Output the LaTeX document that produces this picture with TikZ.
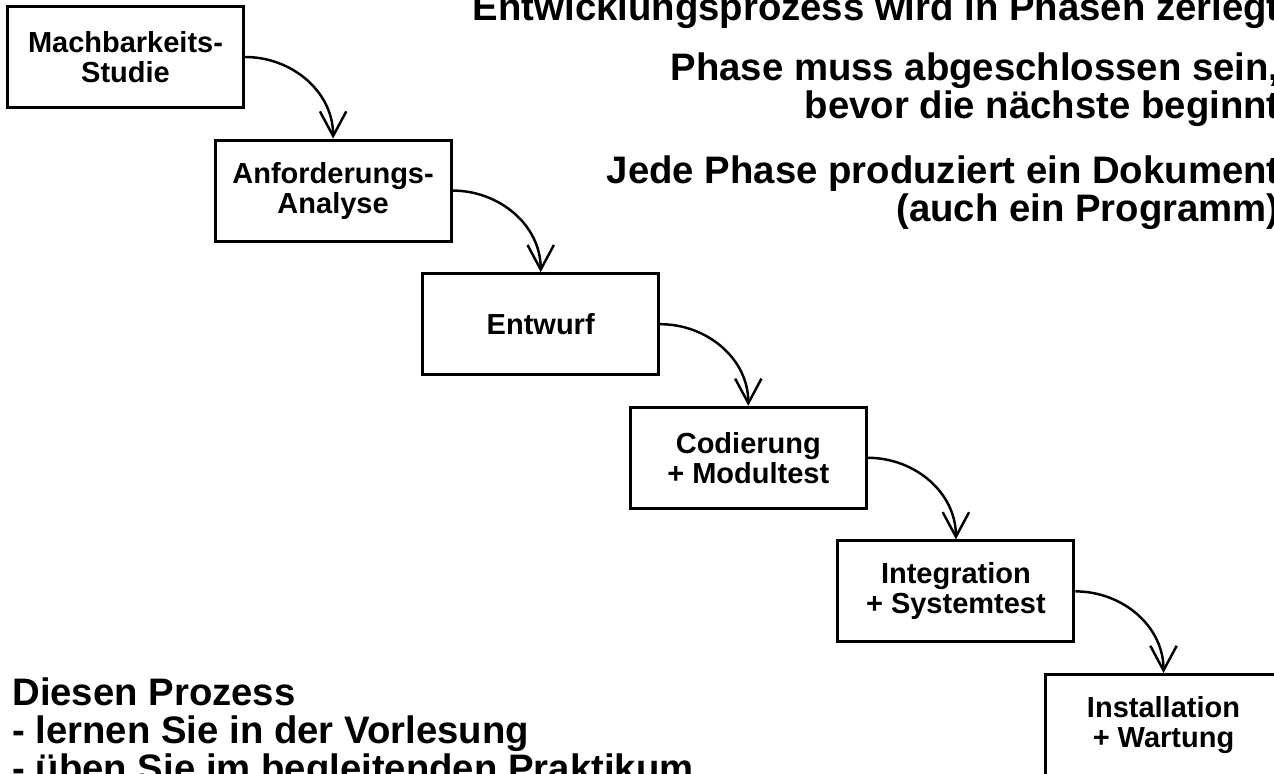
\documentclass[tikz,border=0pt]{standalone}
\usepackage{fontspec}
\setmainfont{Liberation Sans}
\usetikzlibrary{arrows.meta}

\tikzset{
  phase/.style={draw, line width=1.7pt, minimum width=4.72cm, minimum height=2.02cm,
    inner sep=0pt, align=center, font=\fontsize{16.5}{17}\selectfont\bfseries},
  note/.style={inner sep=0pt, font=\fontsize{21.8}{21.8}\selectfont\bfseries},
  flow/.style={->, line width=1.4pt}
}

\begin{document}
\begin{tikzpicture}[>={Straight Barb[length=14pt,width=15pt]}]
\useasboundingbox (0,0) rectangle (25.48,15.48);
\clip (0,0) rectangle (25.48,15.48);

% phases, one step down and right each
\node[phase] (studie) at (2.51,14.34) {Machbarkeits-\\Studie};
\node[phase] (analyse) at (6.662,11.668) {Anforderungs-\\Analyse};
\node[phase] (entwurf) at (10.814,8.996) {Entwurf};
\node[phase] (codierung) at (14.966,6.324) {Codierung\\+ Modultest};
\node[phase] (integration) at (19.118,3.652) {Integration\\+ Systemtest};
\node[phase] (wartung) at (23.27,0.98) {Installation\\+ Wartung};

\draw[flow] (studie.east) to[out=0,in=90] (analyse.north);
\draw[flow] (analyse.east) to[out=0,in=90] (entwurf.north);
\draw[flow] (entwurf.east) to[out=0,in=90] (codierung.north);
\draw[flow] (codierung.east) to[out=0,in=90] (integration.north);
\draw[flow] (integration.east) to[out=0,in=90] (wartung.north);

% remarks (base = last line)
\node[note, anchor=base east] (zerlegt) at (25.6,15.06) {Entwicklungsprozess wird in Phasen zerlegt};
\node[note, anchor=base east, align=right] (abschluss) at (25.6,13.1) {Phase muss abgeschlossen sein,\\bevor die nächste beginnt};
\node[note, anchor=base east, align=right] (dokument) at (25.6,11.04) {Jede Phase produziert ein Dokument\\(auch ein Programm)};
\node[note, anchor=base west, align=left] (prozess) at (0.24,-0.16) {Diesen Prozess\\- lernen Sie in der Vorlesung\\- üben Sie im begleitenden Praktikum};
\end{tikzpicture}
\end{document}
